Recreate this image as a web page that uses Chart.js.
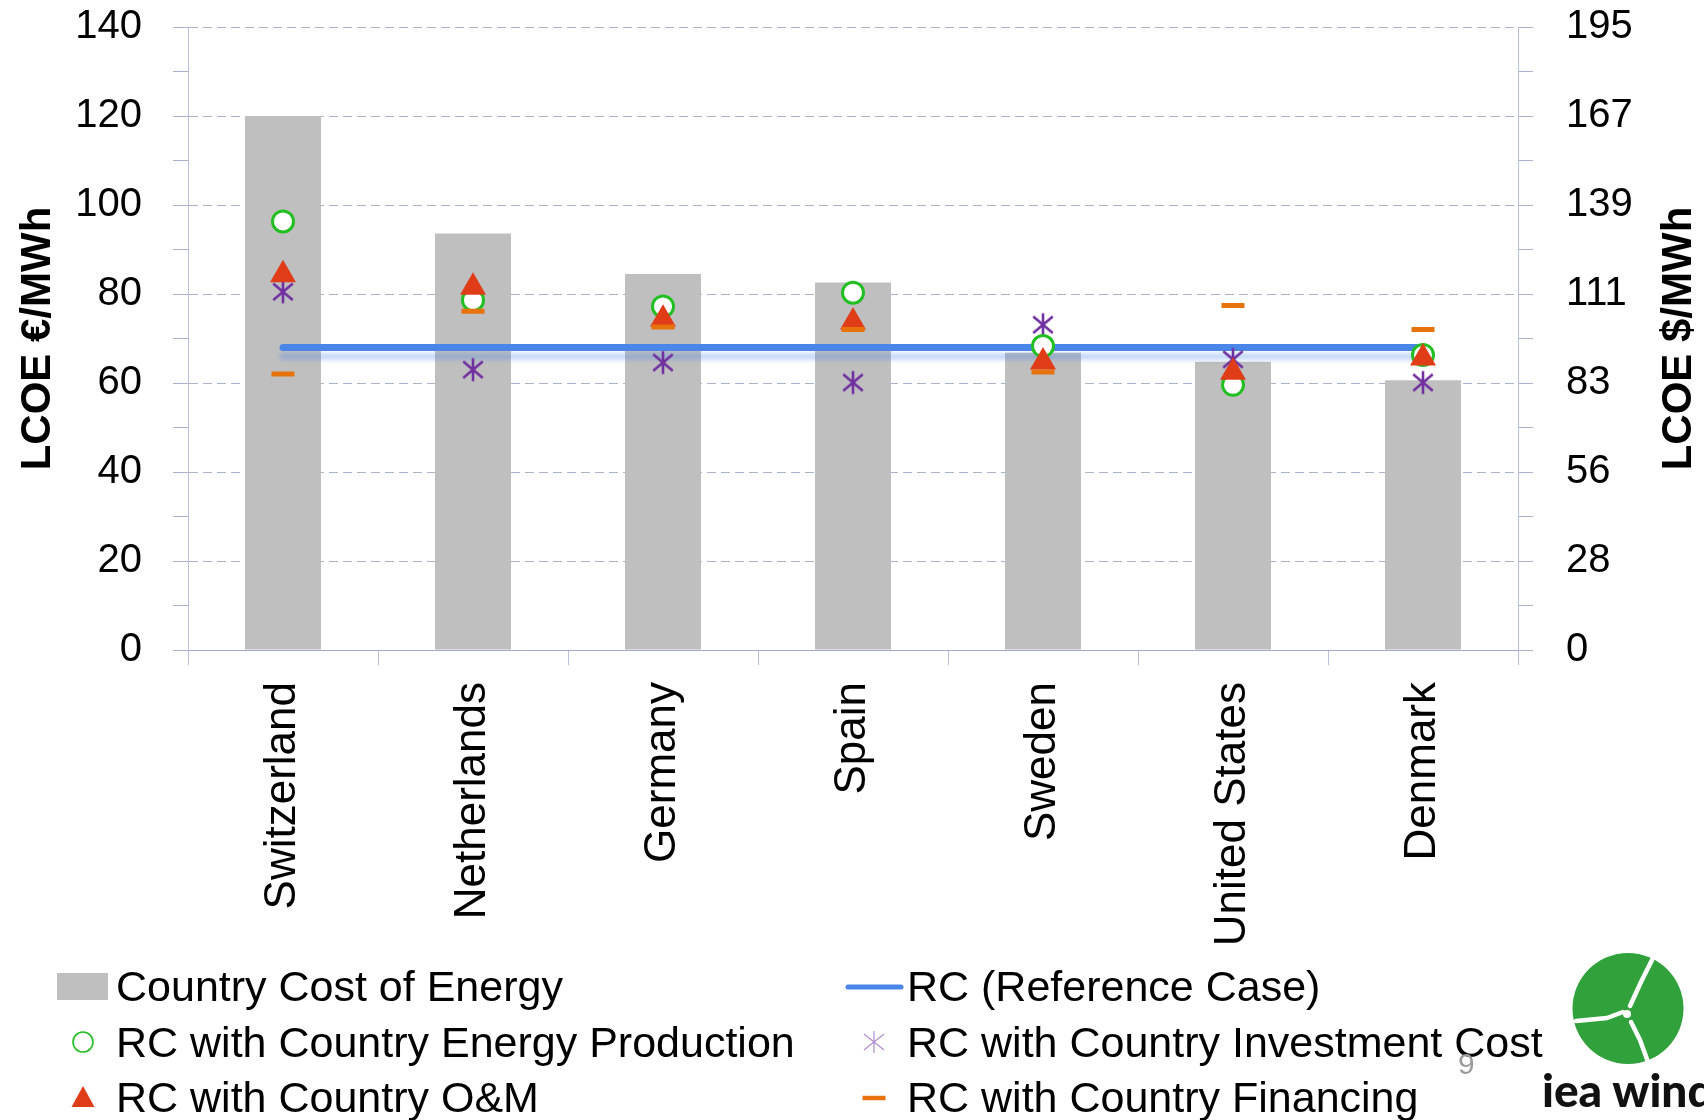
<!DOCTYPE html>
<html>
<head>
<meta charset="utf-8">
<title>LCOE by country</title>
<script src="https://cdn.jsdelivr.net/npm/chart.js@4.4.1/dist/chart.umd.min.js"></script>
<style>
  html, body { margin: 0; padding: 0; background: #ffffff; }
  #wrap { position: relative; width: 1704px; height: 1120px; overflow: hidden; }
  #chart { position: absolute; left: 0; top: 0; }
  #pageNo { position: absolute; left: 1458px; top: 1049px; font: 30px 'Liberation Sans', Arial, sans-serif; line-height: 1; color: #9b9b9b; }
  #logo { position: absolute; left: 1540px; top: 940px; }
</style>
</head>
<body>
<div id="wrap">
  <canvas id="chart" width="1704" height="1120"></canvas>
  <div id="pageNo">9</div>
  <svg id="logo" width="164" height="180" viewBox="0 0 164 180">
    <circle cx="88" cy="68.5" r="55.5" fill="#31a23b"/>
    <g fill="none" stroke="#ffffff" stroke-width="4.5" stroke-linejoin="round" stroke-linecap="round">
      <polyline points="114,16 101,42 90,66"/>
      <polyline points="83,72 67,78 36,81"/>
      <polyline points="91,82 100,100 108,122"/>
    </g>
    <circle cx="87" cy="74" r="4" fill="#ffffff"/>
    <text x="2" y="167" font-family="Lato, 'Open Sans', sans-serif" font-weight="900" font-size="46" fill="#111111">iea wind</text>
  </svg>
</div>
<script>
// Countries, ordered by their own cost of energy
const categories = ['Switzerland', 'Netherlands', 'Germany', 'Spain', 'Sweden', 'United States', 'Denmark'];

// LCOE in EUR/MWh
const countryCostOfEnergy   = [120.0, 93.6, 84.5, 82.6, 66.8, 64.8, 60.6];
const referenceCase         = [68, 68, 68, 68, 68, 68, 68];
const withEnergyProduction  = [96.3, 78.6, 77.2, 80.3, 68.3, 59.6, 66.3];
const withInvestmentCost    = [80.5, 63.0, 64.6, 60.1, 73.1, 65.3, 60.1];
const withOandM             = [84.3, 81.5, 74.3, 73.7, 64.7, 62.4, 65.6];
const withFinancing         = [62.0, 76.1, 72.6, 72.0, 62.5, 77.4, 72.0];

// Axis labels: EUR on the left, the same gridlines expressed in USD on the right
const euroTicks = [0, 20, 40, 60, 80, 100, 120, 140];
const dollarTickLabels = ['0', '28', '56', '83', '111', '139', '167', '195'];

const FONT = "'Liberation Sans', Arial, sans-serif";
const GRID = '#aab2cc';
const AXIS = '#b7c0dc';

// Six-armed asterisk marker (vertical bar plus an X)
function asteriskImage(size, color, width) {
  const c = document.createElement('canvas');
  c.width = size; c.height = size;
  const g = c.getContext('2d');
  const m = size / 2, r = size / 2 - 1.5;
  g.strokeStyle = color; g.lineWidth = width; g.lineCap = 'butt';
  g.beginPath();
  g.moveTo(m, m - r); g.lineTo(m, m + r);
  g.moveTo(m - r * 0.85, m - r * 0.72); g.lineTo(m + r * 0.85, m + r * 0.72);
  g.moveTo(m + r * 0.85, m - r * 0.72); g.lineTo(m - r * 0.85, m + r * 0.72);
  g.stroke();
  return c;
}
const asterisk = asteriskImage(26, '#7030a0', 2.6);

const COLORS = {
  bar: '#bfbfbf', line: '#4a86e8', green: '#22bf22', red: '#e03c18', purple: '#7030a0', orange: '#e8720c'
};

// Soft drop shadow under the reference-case line
const lineShadow = {
  id: 'lineShadow',
  beforeDatasetDraw(chart, args) {
    if (chart.data.datasets[args.index].legendMarker !== 'line') return;
    const ctx = chart.ctx;
    ctx.save();
    ctx.shadowColor = 'rgba(74,134,232,0.32)';
    ctx.shadowBlur = 4;
    ctx.shadowOffsetY = 9;
  },
  afterDatasetDraw(chart, args) {
    if (chart.data.datasets[args.index].legendMarker !== 'line') return;
    chart.ctx.restore();
  }
};

// Axis titles, both reading bottom-to-top
const axisTitles = {
  id: 'axisTitles',
  afterDraw(chart, args, opts) {
    const ctx = chart.ctx;
    const area = chart.chartArea;
    const cy = (area.top + area.bottom) / 2;
    ctx.save();
    ctx.font = 'bold 42px ' + FONT;
    ctx.fillStyle = '#000000';
    ctx.textAlign = 'center';
    ctx.textBaseline = 'alphabetic';
    for (const t of opts.titles) {
      ctx.save();
      ctx.translate(t.x, cy);
      ctx.rotate(-Math.PI / 2);
      ctx.fillText(t.text, 0, 0);
      ctx.restore();
    }
    ctx.restore();
  }
};

// Two-column legend below the category labels
const twoColumnLegend = {
  id: 'twoColumnLegend',
  afterDraw(chart, args, opts) {
    const ctx = chart.ctx;
    const ds = chart.data.datasets;
    ctx.save();
    ctx.font = '43px ' + FONT;
    ctx.textBaseline = 'alphabetic';
    ctx.textAlign = 'left';
    opts.columns.forEach((col) => {
      col.items.forEach((dsIndex, row) => {
        const d = ds[dsIndex];
        const cy = opts.rows[row];
        const mx = col.markerX;
        ctx.save();
        switch (d.legendMarker) {
          case 'box':
            ctx.fillStyle = d.backgroundColor;
            ctx.fillRect(mx - 26, cy - 13, 51, 27);
            break;
          case 'line':
            ctx.strokeStyle = d.borderColor; ctx.lineWidth = 5; ctx.lineCap = 'round';
            ctx.beginPath(); ctx.moveTo(mx - 26, cy + 1); ctx.lineTo(mx + 27, cy + 1); ctx.stroke();
            break;
          case 'circle':
            ctx.fillStyle = '#ffffff'; ctx.strokeStyle = d.pointBorderColor; ctx.lineWidth = 1.6;
            ctx.beginPath(); ctx.arc(mx, cy, 10, 0, Math.PI * 2); ctx.fill(); ctx.stroke();
            break;
          case 'star':
            ctx.strokeStyle = 'rgba(112,48,160,0.55)'; ctx.lineWidth = 1.2;
            ctx.beginPath();
            ctx.moveTo(mx, cy - 11); ctx.lineTo(mx, cy + 11);
            ctx.moveTo(mx - 10, cy - 8); ctx.lineTo(mx + 10, cy + 8);
            ctx.moveTo(mx + 10, cy - 8); ctx.lineTo(mx - 10, cy + 8);
            ctx.stroke();
            break;
          case 'triangle':
            ctx.fillStyle = d.pointBackgroundColor;
            ctx.beginPath(); ctx.moveTo(mx, cy - 11); ctx.lineTo(mx + 11.5, cy + 10); ctx.lineTo(mx - 11.5, cy + 10); ctx.closePath(); ctx.fill();
            break;
          case 'dash':
            ctx.strokeStyle = d.pointBorderColor; ctx.lineWidth = 4.5;
            ctx.beginPath(); ctx.moveTo(mx - 11.5, cy + 1); ctx.lineTo(mx + 11.5, cy + 1); ctx.stroke();
            break;
        }
        ctx.restore();
        ctx.fillStyle = '#000000';
        ctx.fillText(d.label, col.textX, cy + 15);
      });
    });
    ctx.restore();
  }
};

// Keep the plot top just under the canvas edge regardless of tick padding
function fixVerticalAxis(width) {
  return (scale) => {
    scale.width = width;
    scale.paddingTop = 27;
    scale.paddingBottom = 0;
  };
}

new Chart(document.getElementById('chart'), {
  type: 'bar',
  data: {
    labels: categories,
    datasets: [
      {
        label: 'Country Cost of Energy', legendMarker: 'box',
        data: countryCostOfEnergy, backgroundColor: COLORS.bar, borderWidth: 0,
        categoryPercentage: 1.0, barPercentage: 0.4, order: 10
      },
      {
        type: 'line', label: 'RC (Reference Case)', legendMarker: 'line',
        data: referenceCase, borderColor: COLORS.line, borderWidth: 7, borderCapStyle: 'round',
        pointRadius: 0, pointHoverRadius: 0, fill: false, order: 9
      },
      {
        type: 'line', showLine: false, label: 'RC with Country Energy Production', legendMarker: 'circle',
        data: withEnergyProduction, pointStyle: 'circle', pointRadius: 10.5, pointHoverRadius: 10.5,
        pointBackgroundColor: '#ffffff', pointBorderColor: COLORS.green, pointBorderWidth: 3, order: 7
      },
      {
        type: 'line', showLine: false, label: 'RC with Country Investment Cost', legendMarker: 'star',
        data: withInvestmentCost, pointStyle: asterisk, pointRadius: 12, pointHoverRadius: 12,
        pointBackgroundColor: COLORS.purple, pointBorderColor: COLORS.purple, order: 8
      },
      {
        type: 'line', showLine: false, label: 'RC with Country O&M', legendMarker: 'triangle',
        data: withOandM, pointStyle: 'triangle', pointRadius: 15, pointHoverRadius: 15,
        pointBackgroundColor: COLORS.red, pointBorderColor: COLORS.red, pointBorderWidth: 0, order: 6
      },
      {
        type: 'line', showLine: false, label: 'RC with Country Financing', legendMarker: 'dash',
        data: withFinancing, pointStyle: 'line', pointRadius: 11.5, pointHoverRadius: 11.5,
        pointBackgroundColor: COLORS.orange, pointBorderColor: COLORS.orange, pointBorderWidth: 5, order: 5
      }
    ]
  },
  options: {
    responsive: false,
    animation: false,
    devicePixelRatio: 1,
    layout: { padding: 0 },
    scales: {
      x: {
        offset: true,
        grid: { display: true, offset: true, drawOnChartArea: false, drawTicks: true, tickLength: 15, tickColor: AXIS, color: AXIS },
        border: { display: true, color: '#9fabd2', width: 1 },
        ticks: {
          autoSkip: false, minRotation: 90, maxRotation: 90, padding: 17,
          color: '#000000', font: { family: FONT, size: 44 }
        },
        afterFit(scale) { scale.height = 470; }
      },
      y: {
        position: 'left', min: 0, max: 140,
        grid: {
          drawOnChartArea: true, drawTicks: true, tickLength: 15, lineWidth: 1,
          color: (c) => (euroTicks.includes(c.tick.value) ? GRID : 'rgba(0,0,0,0)'),
          tickColor: GRID
        },
        border: { display: true, color: AXIS, width: 1, dash: [9, 5] },
        ticks: {
          stepSize: 10, autoSkip: false, padding: 31, color: '#000000',
          font: { family: FONT, size: 40 },
          callback: (v) => (euroTicks.includes(v) ? String(v) : '')
        },
        afterFit: fixVerticalAxis(188)
      },
      y2: {
        position: 'right', min: 0, max: 140,
        grid: { drawOnChartArea: false, drawTicks: true, tickLength: 15, tickColor: GRID },
        border: { display: true, color: AXIS, width: 1 },
        ticks: {
          stepSize: 10, autoSkip: false, padding: 33, color: '#000000',
          font: { family: FONT, size: 40 },
          callback: (v) => (v % 20 === 0 ? dollarTickLabels[v / 20] : '')
        },
        afterFit: fixVerticalAxis(186)
      }
    },
    plugins: {
      legend: { display: false },
      tooltip: { enabled: false },
      axisTitles: {
        titles: [
          { text: 'LCOE €/MWh', x: 50 },
          { text: 'LCOE $/MWh', x: 1691 }
        ]
      },
      twoColumnLegend: {
        rows: [986, 1042, 1097],
        columns: [
          { markerX: 83, textX: 116, items: [0, 2, 4] },
          { markerX: 874, textX: 907, items: [1, 3, 5] }
        ]
      }
    }
  },
  plugins: [lineShadow, axisTitles, twoColumnLegend]
});
</script>
</body>
</html>
